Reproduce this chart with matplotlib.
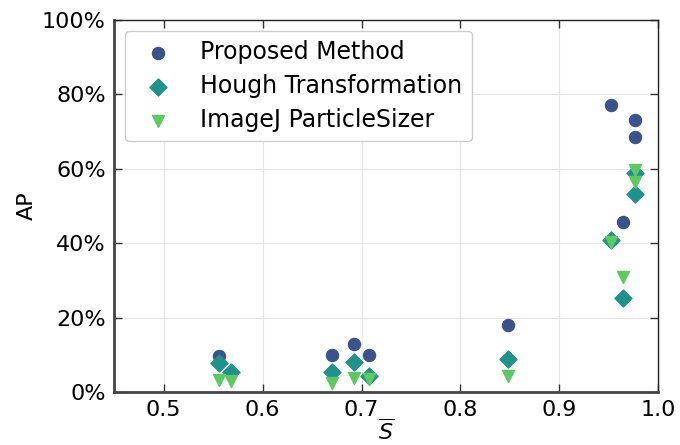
import matplotlib
matplotlib.use("Agg")
import matplotlib.pyplot as plt
from matplotlib.ticker import PercentFormatter

# mean S value of each image set and AP (%) per method
proposed_x = [0.556, 0.670, 0.692, 0.708, 0.848, 0.952, 0.977, 0.977, 0.964]
proposed_y = [9.7, 10.0, 12.9, 10.0, 18.0, 77.2, 73.1, 68.6, 45.7]

hough_x = [0.556, 0.568, 0.670, 0.692, 0.708, 0.848, 0.952, 0.977, 0.977, 0.964]
hough_y = [7.8, 5.4, 5.4, 8.0, 4.3, 8.9, 40.8, 58.8, 53.3, 25.3]

imagej_x = [0.556, 0.568, 0.670, 0.692, 0.708, 0.848, 0.952, 0.977, 0.977, 0.964]
imagej_y = [3.2, 3.1, 2.4, 3.8, 3.5, 4.4, 40.3, 59.8, 56.4, 31.0]

xticks = [0.5, 0.6, 0.7, 0.8, 0.9, 1.0]
yticks = [0, 20, 40, 60, 80, 100]

plt.rcParams['font.size'] = 16

fig = plt.figure(figsize=(6.8, 4.45), dpi=100)
ax = fig.add_axes([0.168, 0.119, 0.8, 0.836])

ax.scatter(proposed_x, proposed_y, s=75, marker='o', color='#3b528b',
           label='Proposed Method', zorder=3)
ax.scatter(hough_x, hough_y, s=75, marker='D', color='#21918c',
           label='Hough Transformation', zorder=3)
ax.scatter(imagej_x, imagej_y, s=75, marker='v', color='#5ec962',
           label='ImageJ ParticleSizer', zorder=3)

ax.set_xlim(0.45, 1.0)
ax.set_ylim(0, 100)
ax.set_xticks(xticks)
ax.set_yticks(yticks)
ax.yaxis.set_major_formatter(PercentFormatter(xmax=100, decimals=0))

ax.grid(True, color='#e6e6e6', linewidth=0.8)
ax.set_axisbelow(True)
ax.tick_params(direction='in', top=True, right=True, length=6, width=1,
               color='#333333', labelsize=16, pad=6)

for side in ['left', 'bottom']:
    ax.spines[side].set_linewidth(2)
    ax.spines[side].set_color('#444444')
for side in ['top', 'right']:
    ax.spines[side].set_linewidth(1)
    ax.spines[side].set_color('#222222')

ax.set_ylabel('AP', fontsize=16)
ax.set_xlabel(r'$\overline{S}$', fontsize=16, labelpad=-1)

ax.legend(loc='upper left', fontsize=17, framealpha=1, edgecolor='#cccccc',
          labelspacing=0.42, borderaxespad=0.45)

fig.savefig('out.png', dpi=100)
